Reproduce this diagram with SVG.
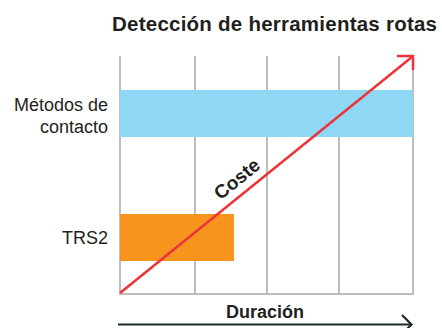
<svg xmlns="http://www.w3.org/2000/svg" width="442" height="328" viewBox="0 0 442 328">
<style>
.lbl{font-family:"Liberation Sans",Arial,sans-serif;font-size:18px;fill:#231f20}
.b{font-weight:bold}
.grid{stroke:#bcbec0;stroke-width:2;fill:none}
</style>
<rect width="442" height="328" fill="#fff"/>
<text class="lbl b" x="112" y="31" style="font-size:20.5px" textLength="325" lengthAdjust="spacing">Detección de herramientas rotas</text>
<g id="grid">
<path class="grid" d="M120 56V294M195 56V294M267 56V294M339 56V294M413 56V294M119 294H414"/>
</g>
<g id="metodos">
<rect x="120" y="90" width="293" height="47" fill="#8ed8f5"/>
<text class="lbl" x="108" y="111" text-anchor="end">Métodos de</text>
<text class="lbl" x="108" y="133" text-anchor="end">contacto</text>
</g>
<g id="trs2">
<rect x="120" y="214" width="114" height="47" fill="#f7941e"/>
<text class="lbl" x="108" y="244" text-anchor="end">TRS2</text>
</g>
<g id="connectors">
<path d="M120 293L412 57" stroke="#ee3338" stroke-width="2.5" fill="none"/>
<path d="M397 56H413V70" stroke="#ee3338" stroke-width="2.5" fill="none"/>
<path d="M118 324.5H411" stroke="#1f2a2a" stroke-width="2.2" fill="none"/>
<path d="M402 315L411.5 324.5L402 334" stroke="#1f2a2a" stroke-width="2.2" fill="none"/>
</g>
<text class="lbl b" style="font-size:19px" transform="translate(241 184) rotate(-39)" text-anchor="middle">Coste</text>
<text class="lbl b" x="265" y="318" text-anchor="middle">Duración</text>
</svg>
